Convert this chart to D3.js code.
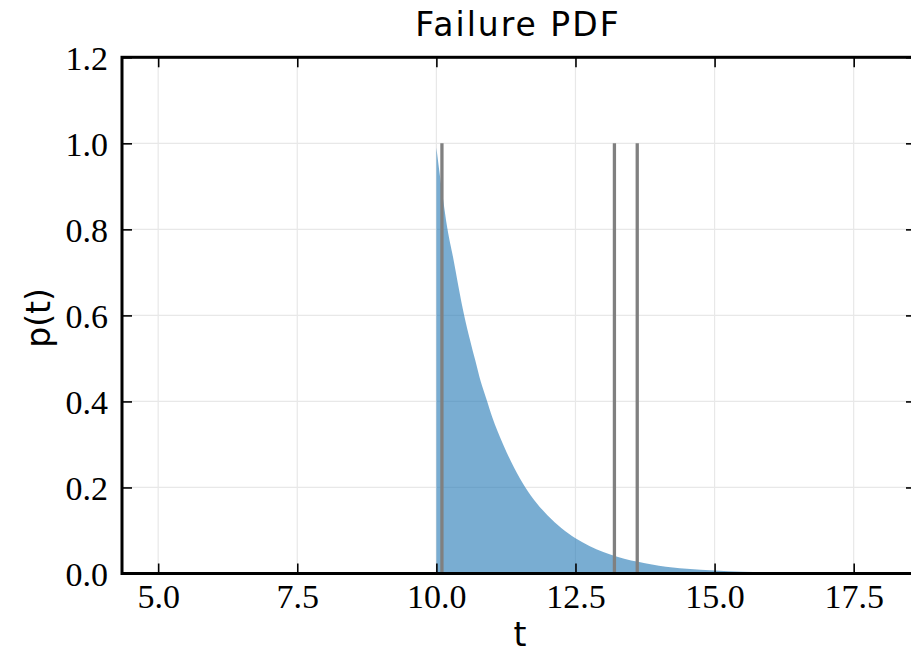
<!DOCTYPE html>
<html>
<head>
<meta charset="utf-8">
<script src="https://cdn.jsdelivr.net/npm/d3@7"></script>
<style>
  body { margin: 0; background: #fff; }
  svg { display: block; }
</style>
</head>
<body>
<div id="chart"></div>
<script>
// values
const pdfT = [10.0, 10.1, 10.2, 10.3, 10.4, 10.5, 10.6, 10.7, 10.8, 10.9, 11.0, 11.2, 11.4, 11.6, 11.8, 12.0, 12.25, 12.5, 12.75, 13.0, 13.25, 13.5, 13.75, 14.0, 14.5, 15.0, 15.5, 16.0, 16.5, 17.0, 18.0, 18.7];
const pdfP = [0.99, 0.89, 0.80, 0.735, 0.665, 0.60, 0.545, 0.495, 0.445, 0.405, 0.365, 0.30, 0.245, 0.20, 0.164, 0.135, 0.105, 0.082, 0.064, 0.050, 0.039, 0.030, 0.024, 0.018, 0.011, 0.0068, 0.0041, 0.0025, 0.0015, 0.0009, 0.0003, 0.0001];
const failTimes = [10.1, 13.2, 13.61];
const xTicks = [5.0, 7.5, 10.0, 12.5, 15.0, 17.5];
const yTicks = [0.0, 0.2, 0.4, 0.6, 0.8, 1.0, 1.2];

const width = 911, height = 656;
const margin = { top: 57.3, right: -5, bottom: 82.5, left: 122 };

const svg = d3.select("#chart").append("svg")
    .attr("width", width)
    .attr("height", height);

const x = d3.scaleLinear().domain([4.35, 18.62]).range([margin.left, width - margin.right]);
const y = d3.scaleLinear().domain([0, 1.2]).range([height - margin.bottom, margin.top]);

svg.append("clipPath").attr("id", "plot-clip")
    .append("rect")
    .attr("x", margin.left).attr("y", margin.top)
    .attr("width", width - margin.right - margin.left)
    .attr("height", height - margin.bottom - margin.top);

// grid
const grid = svg.append("g").attr("class", "grid");
grid.selectAll("line.gx").data(xTicks).enter().append("line")
    .attr("x1", d => x(d)).attr("x2", d => x(d))
    .attr("y1", y(0)).attr("y2", y(1.2))
    .attr("stroke", "#e8e8e8").attr("stroke-width", 1.2);
grid.selectAll("line.gy").data(yTicks).enter().append("line")
    .attr("y1", d => y(d)).attr("y2", d => y(d))
    .attr("x1", x.range()[0]).attr("x2", x.range()[1])
    .attr("stroke", "#e8e8e8").attr("stroke-width", 1.2);

// pdf fill
const pdf = pdfT.map((t, i) => ({ t: t, p: pdfP[i] }));
const area = d3.area()
    .x(d => x(d.t))
    .y0(y(0))
    .y1(d => y(d.p))
    .curve(d3.curveMonotoneX);

svg.append("path")
    .datum(pdf)
    .attr("clip-path", "url(#plot-clip)")
    .attr("d", area)
    .attr("fill", "#1f77b4")
    .attr("fill-opacity", 0.6);

// failure times
svg.selectAll("line.fail").data(failTimes).enter().append("line")
    .attr("class", "fail")
    .attr("x1", d => x(d)).attr("x2", d => x(d))
    .attr("y1", y(0)).attr("y2", y(1.0))
    .attr("stroke", "#808080").attr("stroke-width", 3.3);

// axes, ticks inward on all sides
const tickFont = "'Liberation Serif', 'DejaVu Serif', serif";
const fmt = d3.format(".1f");

svg.append("g")
    .attr("transform", `translate(0,${y(0)})`)
    .call(d3.axisBottom(x).tickValues(xTicks).tickFormat(fmt).tickSizeInner(-10).tickSizeOuter(0).tickPadding(10.5))
    .call(g => g.select(".domain").remove())
    .call(g => g.selectAll("line").attr("stroke", "#000").attr("stroke-width", 1.6))
    .call(g => g.selectAll("text").attr("font-family", tickFont).attr("font-size", 34).attr("fill", "#000"));

svg.append("g")
    .attr("transform", `translate(0,${y(1.2)})`)
    .call(d3.axisTop(x).tickValues(xTicks).tickFormat("").tickSizeInner(-10).tickSizeOuter(0))
    .call(g => g.select(".domain").remove())
    .call(g => g.selectAll("line").attr("stroke", "#000").attr("stroke-width", 1.6));

svg.append("g")
    .attr("transform", `translate(${x.range()[0]},0)`)
    .call(d3.axisLeft(y).tickValues(yTicks).tickFormat(fmt).tickSizeInner(-10).tickSizeOuter(0).tickPadding(14))
    .call(g => g.select(".domain").remove())
    .call(g => g.selectAll("line").attr("stroke", "#000").attr("stroke-width", 1.6))
    .call(g => g.selectAll("text").attr("font-family", tickFont).attr("font-size", 34).attr("fill", "#000").attr("dy", "0.36em"));

svg.append("g")
    .attr("transform", `translate(${x.range()[1]},0)`)
    .call(d3.axisRight(y).tickValues(yTicks).tickFormat("").tickSizeInner(-10).tickSizeOuter(0))
    .call(g => g.select(".domain").remove())
    .call(g => g.selectAll("line").attr("stroke", "#000").attr("stroke-width", 1.6));

// frame
svg.append("rect")
    .attr("x", x.range()[0]).attr("y", y(1.2))
    .attr("width", x.range()[1] - x.range()[0])
    .attr("height", y(0) - y(1.2))
    .attr("fill", "none")
    .attr("stroke", "#000")
    .attr("stroke-width", 3);

// labels
const labelFont = "'DejaVu Sans', sans-serif";
svg.append("text")
    .attr("x", 518).attr("y", 36)
    .attr("text-anchor", "middle")
    .attr("font-family", labelFont).attr("font-size", 33)
    .attr("letter-spacing", 2)
    .text("Failure PDF");

svg.append("text")
    .attr("x", 520).attr("y", 646)
    .attr("text-anchor", "middle")
    .attr("font-family", labelFont).attr("font-size", 33)
    .text("t");

svg.append("text")
    .attr("transform", "translate(50,318) rotate(-90)")
    .attr("text-anchor", "middle")
    .attr("font-family", labelFont).attr("font-size", 33)
    .text("p(t)");
</script>
</body>
</html>
